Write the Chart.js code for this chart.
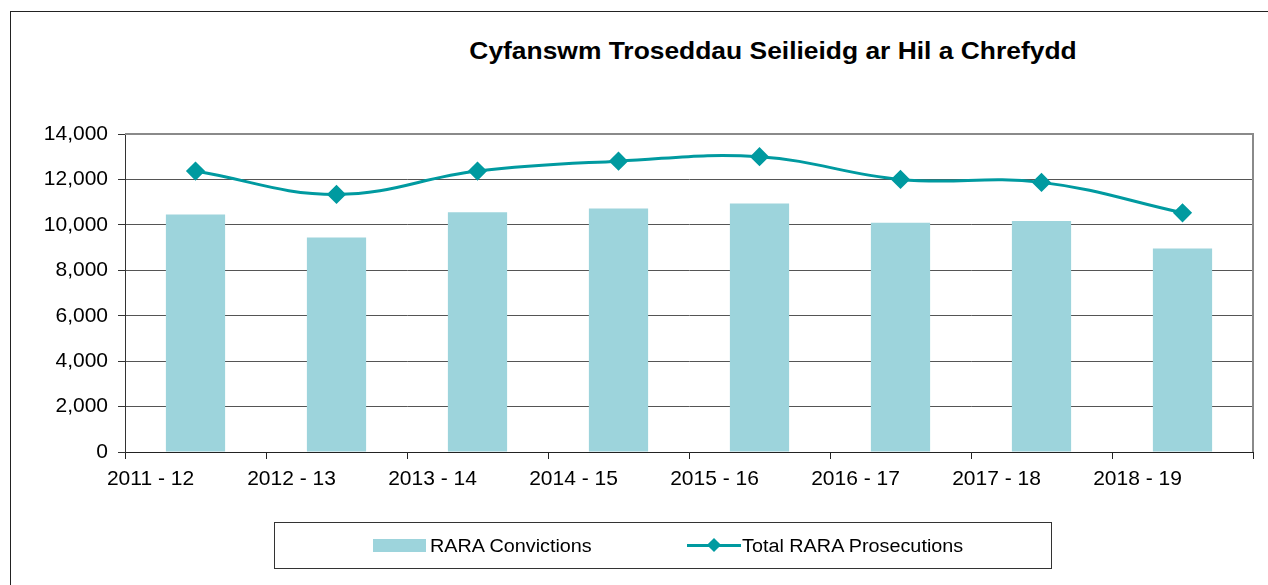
<!DOCTYPE html>
<html>
<head>
<meta charset="utf-8">
<script src="https://cdn.jsdelivr.net/npm/chart.js@4.4.0/dist/chart.umd.min.js"></script>
<style>
  body { margin: 0; background: #fff; font-family: Arial, "Liberation Sans", sans-serif; }
  #wrap { position: relative; width: 1268px; height: 585px; overflow: hidden; }
  #frame { position: absolute; left: 10px; top: 11px; width: 1300px; height: 600px;
           border-left: 1px solid #222; border-top: 1px solid #222; }
  #title { position: absolute; left: 373px; top: 39px; width: 800px; text-align: center;
           font-weight: bold; font-size: 24px; line-height: 24px; color: #000;
           transform: scaleX(1.1); }
  #chart { position: absolute; left: 0; top: 0; }
  #legend { position: absolute; left: 274px; top: 522px; width: 778px; height: 47px;
            box-sizing: border-box; border: 1px solid #333; }
  .lg-text { position: absolute; top: 13px; font-size: 18px; line-height: 20px; color: #000;
             transform: scaleX(1.1); transform-origin: left center; }
  .swatch { position: absolute; top: 16px; width: 53px; height: 13px; background: #9dd4dc; }
  .lsample { position: absolute; top: 21px; width: 54px; height: 3px; background: #009aa0; }
  .diamond { position: absolute; top: 17px; width: 10px; height: 10px; background: #009aa0;
             transform: rotate(45deg); }
</style>
</head>
<body>
<div id="wrap">
  <div id="frame"></div>
  <div id="title">Cyfanswm Troseddau Seilieidg ar Hil a Chrefydd</div>
  <canvas id="chart" width="1268" height="585"></canvas>
  <div id="legend">
    <div class="swatch" style="left:98px"></div>
    <div class="lg-text" style="left:155px">RARA Convictions</div>
    <div class="lsample" style="left:412px"></div>
    <div class="diamond" style="left:434px"></div>
    <div class="lg-text" style="left:467px">Total RARA Prosecutions</div>
  </div>
</div>
<script>
const years = ['2011 - 12', '2012 - 13', '2013 - 14', '2014 - 15', '2015 - 16', '2016 - 17', '2017 - 18', '2018 - 19'];
const convictions = [10460, 9445, 10560, 10720, 10945, 10090, 10165, 8960];
const prosecutions = [12370, 11340, 12370, 12805, 13000, 12000, 11870, 10530];
const yTicks = [0, 2000, 4000, 6000, 8000, 10000, 12000, 14000];

const barColor = '#9dd4dc';
const lineColor = '#009aa0';
const tickFont = { family: 'Arial, "Liberation Sans", sans-serif', size: 21 };

// grey frame on the top and right of the plot area
const plotFrame = {
  id: 'plotFrame',
  afterDraw(chart) {
    const { ctx, chartArea: a } = chart;
    ctx.save();
    ctx.strokeStyle = '#8a8a8a';
    ctx.lineWidth = 2;
    ctx.beginPath();
    ctx.moveTo(a.left, a.top);
    ctx.lineTo(a.right, a.top);
    ctx.lineTo(a.right, a.bottom);
    ctx.stroke();
    ctx.restore();
  }
};

new Chart(document.getElementById('chart'), {
  data: {
    labels: years,
    datasets: [
      {
        type: 'line',
        label: 'Total RARA Prosecutions',
        data: prosecutions,
        borderColor: lineColor,
        backgroundColor: lineColor,
        borderWidth: 3,
        tension: 0.4,
        pointStyle: 'rectRot',
        pointRadius: 7.5,
        pointHoverRadius: 7.5,
        order: 0
      },
      {
        type: 'bar',
        label: 'RARA Convictions',
        data: convictions,
        backgroundColor: barColor,
        categoryPercentage: 1,
        barPercentage: 0.42,
        order: 1
      }
    ]
  },
  options: {
    responsive: false,
    animation: false,
    layout: { padding: { left: 0, right: 15, top: 134, bottom: 93 } },
    plugins: {
      legend: { display: false },
      title: { display: false },
      tooltip: { enabled: false }
    },
    scales: {
      x: {
        afterFit(scale) { scale.height = 40; },
        grid: { offset: true, drawOnChartArea: false, tickLength: 7, color: '#222' },
        border: { color: '#222', width: 1 },
        ticks: { font: tickFont, color: '#000', labelOffset: -45, padding: 8, maxRotation: 0 }
      },
      y: {
        min: 0,
        max: 14000,
        afterFit(scale) { scale.width = 125; },
        afterBuildTicks(scale) { scale.ticks = yTicks.map(v => ({ value: v })); },
        grid: {
          color: ctx => ctx.tick && ctx.tick.value === 14000 ? '#8a8a8a' : '#555',
          tickColor: '#333',
          tickLength: 7
        },
        border: { color: '#333', width: 1 },
        ticks: {
          font: tickFont,
          color: '#000',
          padding: 10,
          callback: v => v.toLocaleString('en-US')
        }
      }
    }
  },
  plugins: [plotFrame]
});
</script>
</body>
</html>
